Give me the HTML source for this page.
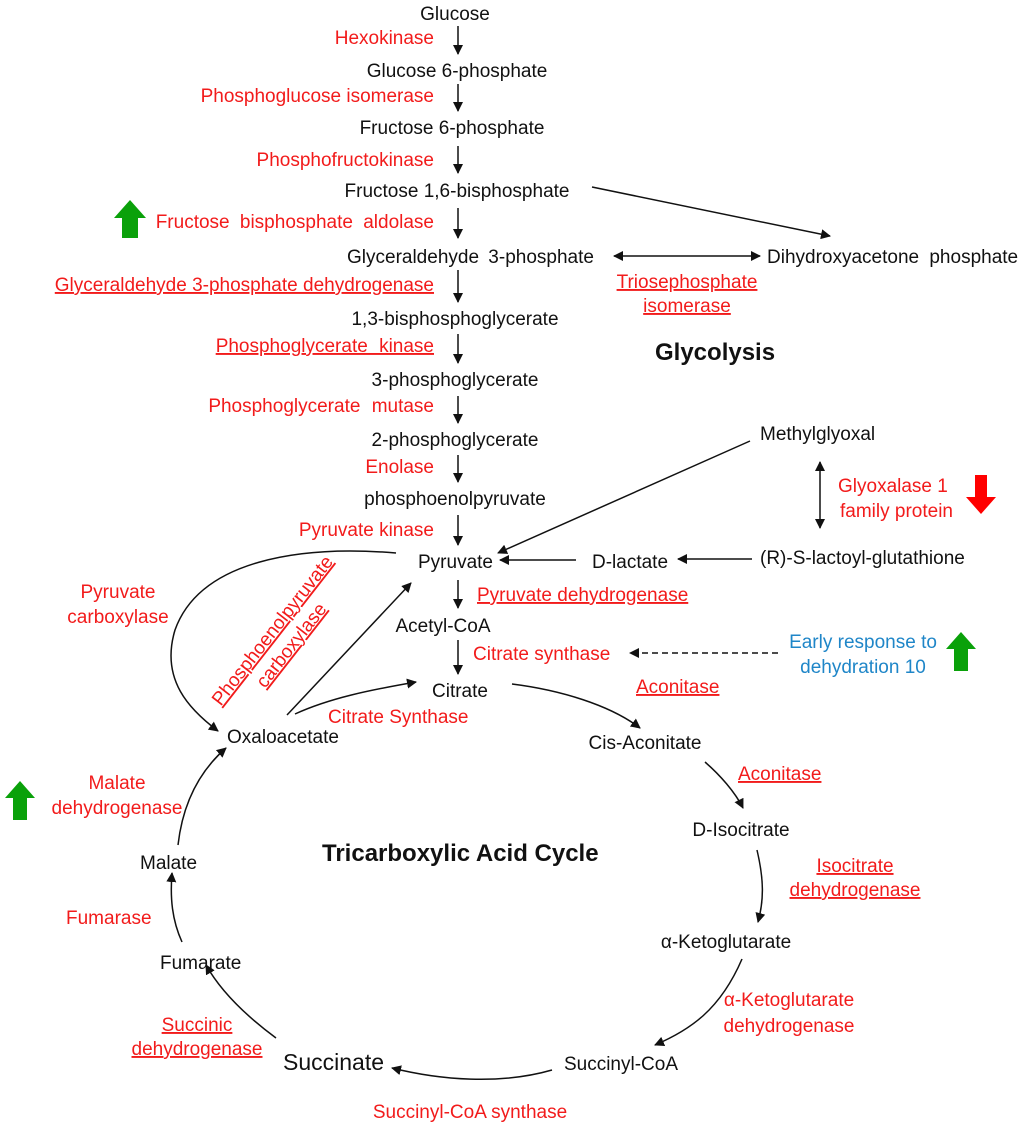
<!DOCTYPE html>
<html><head><meta charset="utf-8"><style>
html,body{margin:0;padding:0;background:#fff}
svg{display:block}
text{font-family:"Liberation Sans",Arial,sans-serif;font-size:19px;fill:#111}
.r{fill:#f21b1b}
.b{fill:#1f86c8}
.u{text-decoration:underline}
.h{font-weight:bold;font-size:24px}
</style></head><body>
<svg width="1024" height="1127" viewBox="0 0 1024 1127" xmlns="http://www.w3.org/2000/svg">
<defs>
<marker id="a" viewBox="0 0 10 10" refX="9" refY="5" markerWidth="10" markerHeight="10" markerUnits="userSpaceOnUse" orient="auto-start-reverse"><path d="M0,0 L10,5 L0,10 z" fill="#111"/></marker>
</defs>
<g stroke="#111" stroke-width="1.5" fill="none" marker-end="url(#a)">
<line x1="458" y1="26" x2="458" y2="54"/>
<line x1="458" y1="84" x2="458" y2="111"/>
<line x1="458" y1="146" x2="458" y2="173"/>
<line x1="458" y1="208" x2="458" y2="238"/>
<line x1="458" y1="270" x2="458" y2="302"/>
<line x1="458" y1="334" x2="458" y2="363"/>
<line x1="458" y1="396" x2="458" y2="423"/>
<line x1="458" y1="455" x2="458" y2="482"/>
<line x1="458" y1="515" x2="458" y2="545"/>
<line x1="458" y1="580" x2="458" y2="608"/>
<line x1="458" y1="640" x2="458" y2="674"/>
<line x1="592" y1="187" x2="830" y2="236"/>
<line x1="614" y1="256" x2="760" y2="256" marker-start="url(#a)"/>
<line x1="750" y1="441" x2="498" y2="553"/>
<line x1="576" y1="560" x2="500" y2="560"/>
<line x1="752" y1="559" x2="678" y2="559"/>
<line x1="820" y1="462" x2="820" y2="528" marker-start="url(#a)"/>
<line x1="778" y1="653" x2="630" y2="653" stroke-dasharray="6,4"/>
<path d="M396,553 C300,545 200,560 175,630 C160,680 190,710 218,731"/>
<line x1="287" y1="715" x2="411" y2="583"/>
<path d="M295,714 C330,698 370,690 416,682"/>
<path d="M512,684 C560,690 610,705 640,728"/>
<path d="M705,762 C720,775 735,792 743,808"/>
<path d="M757,850 C764,880 764,900 758,922"/>
<path d="M742,959 C720,1010 690,1030 655,1045"/>
<path d="M552,1070 C500,1085 440,1080 392,1068"/>
<path d="M276,1038 C245,1015 220,990 206,965"/>
<path d="M182,942 C172,920 170,898 172,873"/>
<path d="M178,845 C182,810 195,775 226,748"/>
</g>
<path d="M122,238 h16 v-20 h8 l-16,-18 l-16,18 h8 z" fill="#0aa10a"/>
<path d="M975,475 h12 v22 h9 l-15,17 l-15,-17 h9 z" fill="#f00"/>
<path d="M954,671 h14 v-22 h8 l-15,-17 l-15,17 h8 z" fill="#0aa10a"/>
<path d="M13,820 h14 v-22 h8 l-15,-17 l-15,17 h8 z" fill="#0aa10a"/>

<text x="455" y="20" text-anchor="middle">Glucose</text>
<text x="434" y="44" text-anchor="end" class="r">Hexokinase</text>
<text x="457" y="77" text-anchor="middle">Glucose 6-phosphate</text>
<text x="434" y="102" text-anchor="end" class="r">Phosphoglucose isomerase</text>
<text x="452" y="134" text-anchor="middle">Fructose 6-phosphate</text>
<text x="434" y="166" text-anchor="end" class="r">Phosphofructokinase</text>
<text x="457" y="197" text-anchor="middle">Fructose 1,6-bisphosphate</text>
<text x="434" y="228" text-anchor="end" class="r" style="word-spacing:5px">Fructose bisphosphate aldolase</text>
<text x="347" y="263" style="word-spacing:4px">Glyceraldehyde 3-phosphate</text>
<text x="767" y="263" style="word-spacing:5px">Dihydroxyacetone phosphate</text>
<text x="434" y="291" text-anchor="end" class="r u">Glyceraldehyde 3-phosphate dehydrogenase</text>
<text x="687" y="288" text-anchor="middle" class="r u">Triosephosphate</text>
<text x="687" y="312" text-anchor="middle" class="r u">isomerase</text>
<text x="455" y="325" text-anchor="middle">1,3-bisphosphoglycerate</text>
<text x="434" y="352" text-anchor="end" class="r u" style="word-spacing:6px">Phosphoglycerate kinase</text>
<text x="655" y="360" class="h">Glycolysis</text>
<text x="455" y="386" text-anchor="middle">3-phosphoglycerate</text>
<text x="434" y="412" text-anchor="end" class="r" style="word-spacing:6px">Phosphoglycerate mutase</text>
<text x="455" y="446" text-anchor="middle">2-phosphoglycerate</text>
<text x="760" y="440">Methylglyoxal</text>
<text x="434" y="473" text-anchor="end" class="r">Enolase</text>
<text x="455" y="505" text-anchor="middle">phosphoenolpyruvate</text>
<text x="838" y="492" class="r">Glyoxalase 1</text>
<text x="840" y="517" class="r">family protein</text>
<text x="434" y="536" text-anchor="end" class="r">Pyruvate kinase</text>
<text x="418" y="568">Pyruvate</text>
<text x="592" y="568">D-lactate</text>
<text x="760" y="564">(R)-S-lactoyl-glutathione</text>
<text x="118" y="598" text-anchor="middle" class="r">Pyruvate</text>
<text x="118" y="623" text-anchor="middle" class="r">carboxylase</text>
<text x="477" y="601" class="r u">Pyruvate dehydrogenase</text>
<text x="443" y="632" text-anchor="middle">Acetyl-CoA</text>
<text x="473" y="660" class="r">Citrate synthase</text>
<text x="863" y="648" text-anchor="middle" class="b">Early response to</text>
<text x="863" y="673" text-anchor="middle" class="b">dehydration 10</text>
<text x="432" y="697">Citrate</text>
<text x="636" y="693" class="r u">Aconitase</text>
<text x="328" y="723" class="r">Citrate Synthase</text>
<g transform="translate(282,638) rotate(-52)">
<text x="0" y="-6" text-anchor="middle" class="r u">Phosphoenolpyruvate</text>
<text x="0" y="18" text-anchor="middle" class="r u">carboxylase</text>
</g>
<text x="227" y="743">Oxaloacetate</text>
<text x="645" y="749" text-anchor="middle">Cis-Aconitate</text>
<text x="117" y="789" text-anchor="middle" class="r">Malate</text>
<text x="117" y="814" text-anchor="middle" class="r">dehydrogenase</text>
<text x="738" y="780" class="r u">Aconitase</text>
<text x="741" y="836" text-anchor="middle">D-Isocitrate</text>
<text x="322" y="861" class="h">Tricarboxylic Acid Cycle</text>
<text x="140" y="869">Malate</text>
<text x="855" y="872" text-anchor="middle" class="r u">Isocitrate</text>
<text x="855" y="896" text-anchor="middle" class="r u">dehydrogenase</text>
<text x="66" y="924" class="r">Fumarase</text>
<text x="726" y="948" text-anchor="middle">α-Ketoglutarate</text>
<text x="160" y="969">Fumarate</text>
<text x="789" y="1006" text-anchor="middle" class="r">α-Ketoglutarate</text>
<text x="789" y="1032" text-anchor="middle" class="r">dehydrogenase</text>
<text x="197" y="1031" text-anchor="middle" class="r u">Succinic</text>
<text x="197" y="1055" text-anchor="middle" class="r u">dehydrogenase</text>
<text x="283" y="1070" style="font-size:23px">Succinate</text>
<text x="621" y="1070" text-anchor="middle">Succinyl-CoA</text>
<text x="470" y="1118" text-anchor="middle" class="r">Succinyl-CoA synthase</text>
</svg>
</body></html>
